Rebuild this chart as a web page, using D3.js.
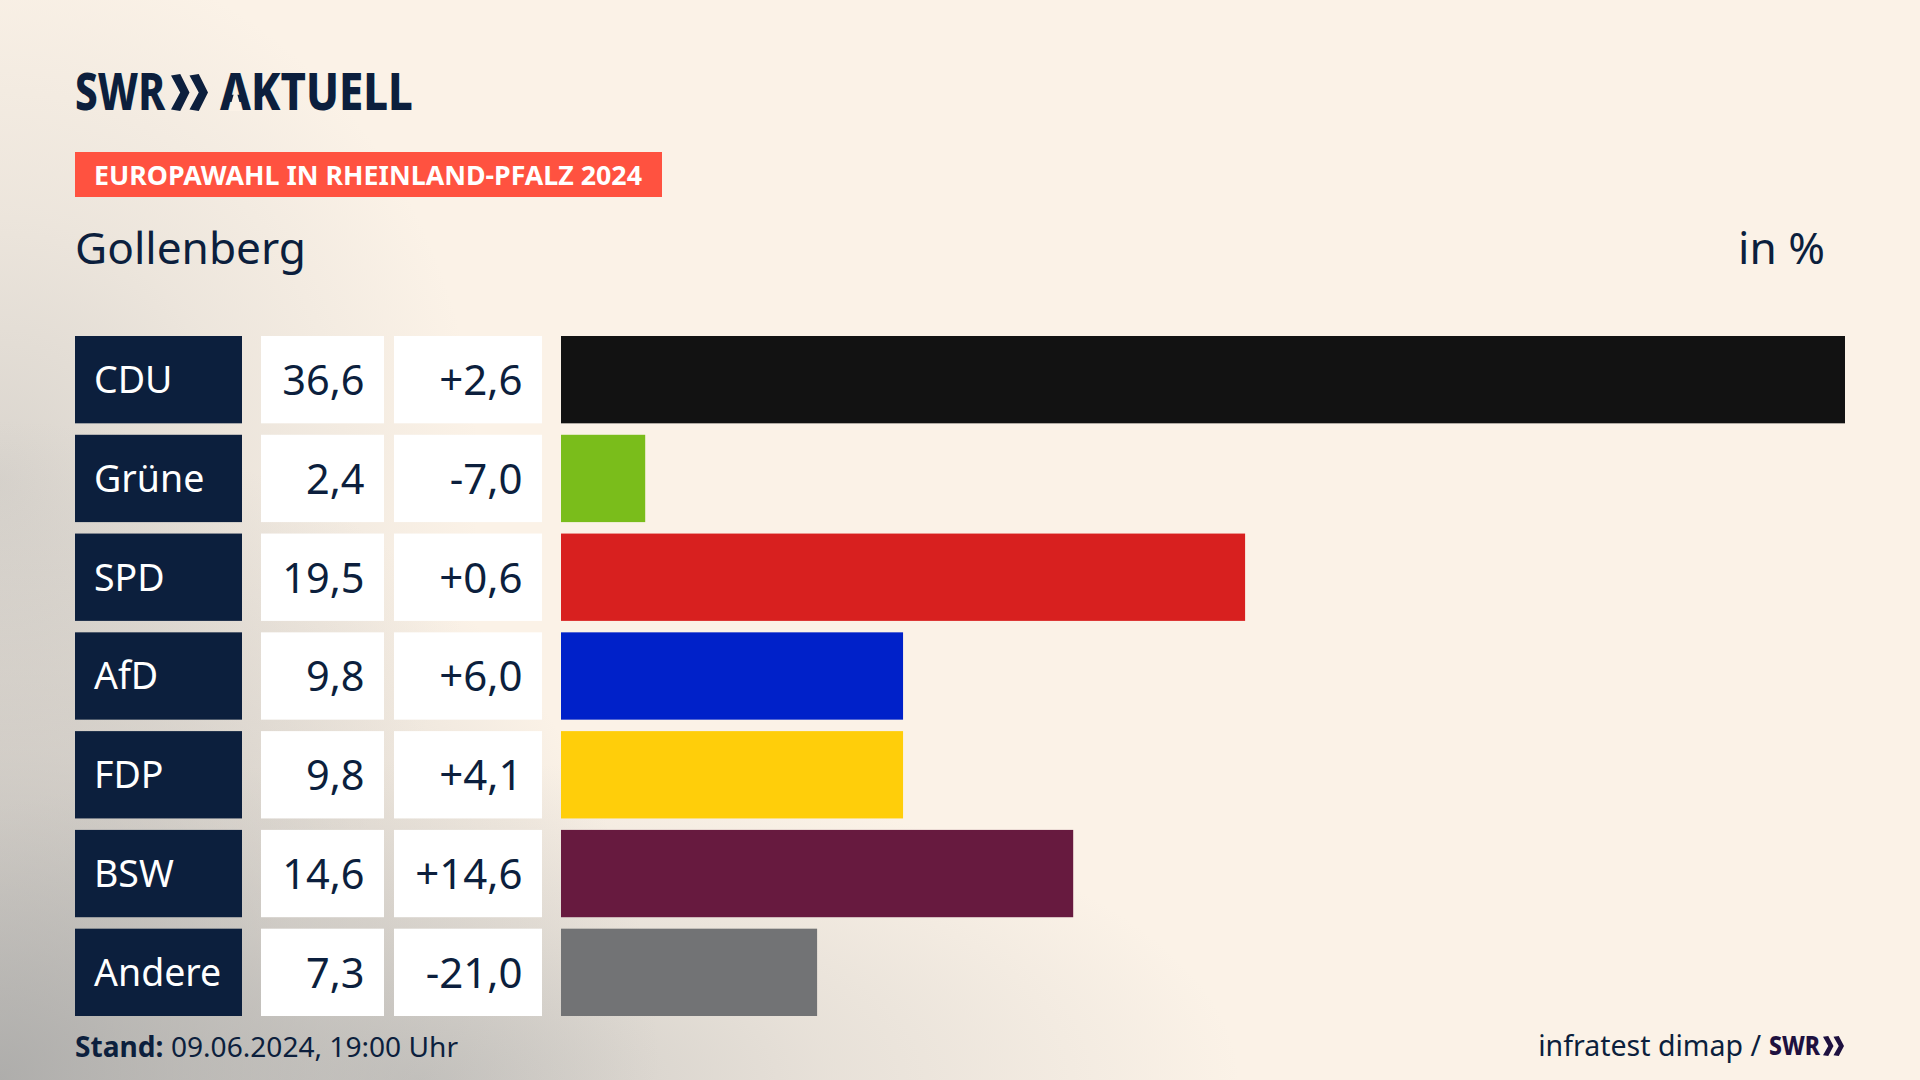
<!DOCTYPE html>
<html>
<head>
<meta charset="utf-8">
<script src="https://cdn.jsdelivr.net/npm/d3@7"></script>
<style>
  html, body { margin: 0; padding: 0; background: #fbf2e7; overflow: hidden; }
  svg { display: block; }
  text { font-family: "Noto Sans", sans-serif; fill: #0c1f3d; }
</style>
</head>
<body>
<svg id="chart" width="1920" height="1080"></svg>
<script>
const parties = ["CDU", "Grüne", "SPD", "AfD", "FDP", "BSW", "Andere"];
const shares = [36.6, 2.4, 19.5, 9.8, 9.8, 14.6, 7.3];
// AfD and FDP bars are drawn a bit shorter than their rounded label
const barLengths = [36.6, 2.4, 19.5, 9.75, 9.75, 14.6, 7.3];
const changes = [2.6, -7.0, 0.6, 6.0, 4.1, 14.6, -21.0];
const colors = ["#121212", "#7abd1b", "#d8201f", "#0021c9", "#ffce0a", "#671a3f", "#727375"];

const navy = "#0c1f3d";
const cream = "#fbf2e7";
const svg = d3.select("#chart");
const defs = svg.append("defs");

svg.append("rect").attr("width", 1920).attr("height", 1080).attr("fill", cream);

// background shading: corner, left edge and bottom edge
function shade(id, cx, cy, rx, ry, color, alpha) {
  const g = defs.append("radialGradient").attr("id", id)
    .attr("gradientUnits", "userSpaceOnUse")
    .attr("cx", 0).attr("cy", 0).attr("r", 1)
    .attr("gradientTransform", `translate(${cx},${cy}) scale(${rx},${ry})`);
  g.append("stop").attr("offset", 0).attr("stop-color", color).attr("stop-opacity", alpha);
  g.append("stop").attr("offset", 0.5).attr("stop-color", color).attr("stop-opacity", alpha * 0.42);
  g.append("stop").attr("offset", 1).attr("stop-color", color).attr("stop-opacity", 0);
  svg.append("rect").attr("width", 1920).attr("height", 1080).attr("fill", `url(#${id})`);
}
shade("left", 0, 480, 480, 540, "#c4c2be", 0.62);
shade("bottom", 420, 1080, 820, 320, "#bdbcb9", 0.75);
shade("corner", 0, 1080, 660, 660, "#a4a4a3", 0.85);

const fmt = v => v.toFixed(1).replace(".", ",");
const fmtChange = v => (v > 0 ? "+" : "") + fmt(v);

const y = d3.scaleBand().domain(parties).range([336, 1016]).paddingInner(0.116).paddingOuter(0);
const x = d3.scaleLinear().domain([0, 36.6]).range([561, 1845]);
const rows = parties.map((p, i) => ({ party: p, share: shares[i], bar: barLengths[i], change: changes[i], color: colors[i] }));

const row = svg.append("g").selectAll("g").data(rows).join("g");

row.append("rect").attr("x", 75).attr("width", 167).attr("y", d => y(d.party)).attr("height", y.bandwidth()).attr("fill", navy);
row.append("rect").attr("x", 261).attr("width", 123).attr("y", d => y(d.party)).attr("height", y.bandwidth()).attr("fill", "#fff");
row.append("rect").attr("x", 394).attr("width", 148).attr("y", d => y(d.party)).attr("height", y.bandwidth()).attr("fill", "#fff");
row.append("rect").attr("x", x(0)).attr("width", d => x(d.bar) - x(0)).attr("y", d => y(d.party)).attr("height", y.bandwidth()).attr("fill", d => d.color);

row.append("text").attr("x", 94).attr("y", d => y(d.party) + 57).attr("font-size", 37.5).style("fill", "#fff").text(d => d.party);
row.append("text").attr("x", 364.5).attr("y", d => y(d.party) + 59).attr("font-size", 41.5).attr("text-anchor", "end").text(d => fmt(d.share));
row.append("text").attr("x", 522.5).attr("y", d => y(d.party) + 59).attr("font-size", 42).attr("text-anchor", "end").text(d => fmtChange(d.change));

// chevrons of the SWR mark
function chevrons(g, x0, top, h, w, fill) {
  [0, 1].forEach(i => {
    const a = x0 + i * w;
    const t = w * 0.5;
    g.append("path")
      .attr("d", `M${a},${top + h * 0.04}L${a + t},${top}L${a + w},${top + h / 2}L${a + t},${top + h}L${a},${top + h * 0.96}L${a + w - t},${top + h / 2}Z`)
      .attr("fill", fill);
  });
}

svg.append("text").attr("x", 75).attr("y", 110).attr("font-size", 52).attr("font-weight", 800)
  .attr("textLength", 90).attr("lengthAdjust", "spacingAndGlyphs").text("SWR");
chevrons(svg, 171, 74, 37, 18.5, navy);
svg.append("text").attr("x", 220).attr("y", 110).attr("font-size", 52).attr("font-weight", 800)
  .attr("textLength", 193).attr("lengthAdjust", "spacingAndGlyphs").text("AKTUELL");
// the wordmark's A has no crossbar
svg.append("path").attr("d", "M235.5,88L242,111H229Z").attr("fill", cream);

svg.append("rect").attr("x", 75).attr("y", 152).attr("width", 587).attr("height", 45).attr("fill", "#ff5240");
svg.append("text").attr("x", 94).attr("y", 185).attr("font-size", 27.5).attr("font-weight", 700).style("fill", "#fff")
  .attr("textLength", 548).attr("lengthAdjust", "spacingAndGlyphs").text("EUROPAWAHL IN RHEINLAND-PFALZ 2024");

svg.append("text").attr("x", 75).attr("y", 264).attr("font-size", 44.2).text("Gollenberg");
svg.append("text").attr("x", 1825).attr("y", 264).attr("font-size", 44.2).attr("text-anchor", "end").text("in %");

const stand = svg.append("text").attr("x", 75).attr("y", 1057).attr("font-size", 28.1);
stand.append("tspan").attr("font-weight", 700).text("Stand:");
stand.append("tspan").attr("dx", 7.5).text("09.06.2024, 19:00 Uhr");

svg.append("text").attr("x", 1761).attr("y", 1056).attr("font-size", 28.5).attr("text-anchor", "end").text("infratest dimap /");
svg.append("text").attr("x", 1769).attr("y", 1055).attr("font-size", 27).attr("font-weight", 800).style("fill", "#1e1140")
  .attr("textLength", 51).attr("lengthAdjust", "spacingAndGlyphs").text("SWR");
chevrons(svg, 1823, 1036, 20, 10.5, "#1e1140");
</script>
</body>
</html>
